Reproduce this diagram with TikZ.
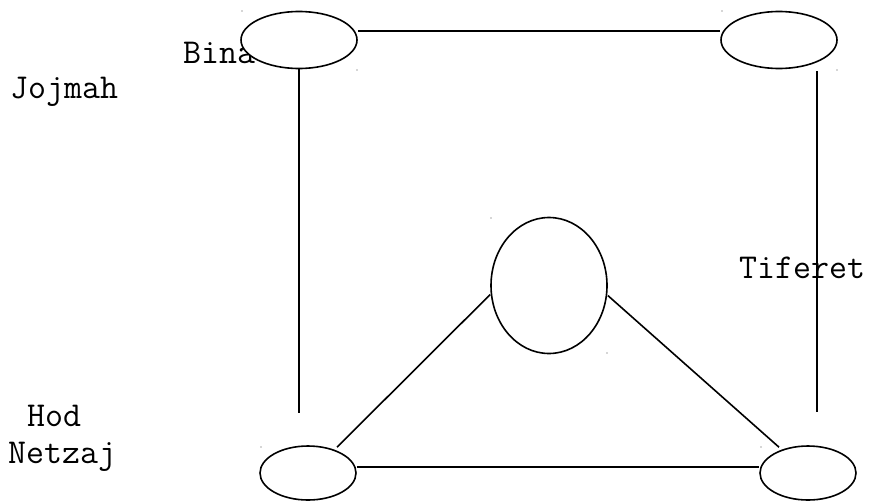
\documentclass[tikz,border=0pt]{standalone}
\usetikzlibrary{shapes.geometric}
\begin{document}
\begin{tikzpicture}[x=1pt,y=-1pt,
  sefira/.style={ellipse,draw,fill=white,line width=1.6pt,inner sep=0pt},
  wide/.style={sefira,minimum width=116pt,minimum height=57pt},
  small/.style={sefira,minimum width=96pt,minimum height=54pt},
  tall/.style={sefira,minimum width=116pt,minimum height=136pt},
  label/.style={inner sep=0pt,anchor=base west,font=\ttfamily\fontsize{34.9}{40}\selectfont},
  link/.style={line width=1.6pt}]
\useasboundingbox (0,0) rectangle (872,501);
% labels
\node[label] (jojmah) at (10,98) {Jojmah};
\node[label] (bina) at (183,63) {Bina};
\node[label] (tiferet) at (739,278) {Tiferet};
\node[label] (hod) at (27,426) {Hod};
\node[label] (netzaj) at (8,463) {Netzaj};
% shapes
\node[wide] (tl) at (299,40) {};
\node[wide] (tr) at (779,40) {};
\node[tall] (mid) at (549,285.5) {};
\node[small] (bl) at (308,473) {};
\node[small] (br) at (808,473) {};
% connectors
\draw[link] ([yshift=9pt]tl.east) -- ([yshift=9pt]tr.west);
\draw[link] (tl.south) -- ([yshift=32pt]bl.north -| tl.south);
\draw[link] ([xshift=38pt,yshift=-2pt]tr.south) -- ([xshift=9pt,yshift=33pt]br.north);
\draw[link] ([yshift=-9pt]mid.west) -- ([xshift=29pt,yshift=-2pt]bl.north);
\draw[link] ([yshift=-10pt]mid.east) -- ([xshift=-29pt,yshift=-2pt]br.north);
\draw[link] ([yshift=6pt]bl.east) -- ([yshift=6pt]br.west);
% tiny corner marks
\foreach \p in {(242,11),(357,70),(722,11),(837,70),(491,218),(607,353),(261,447),(761,447)}
  \fill[black!70] \p circle (0.7pt);
\end{tikzpicture}
\end{document}
